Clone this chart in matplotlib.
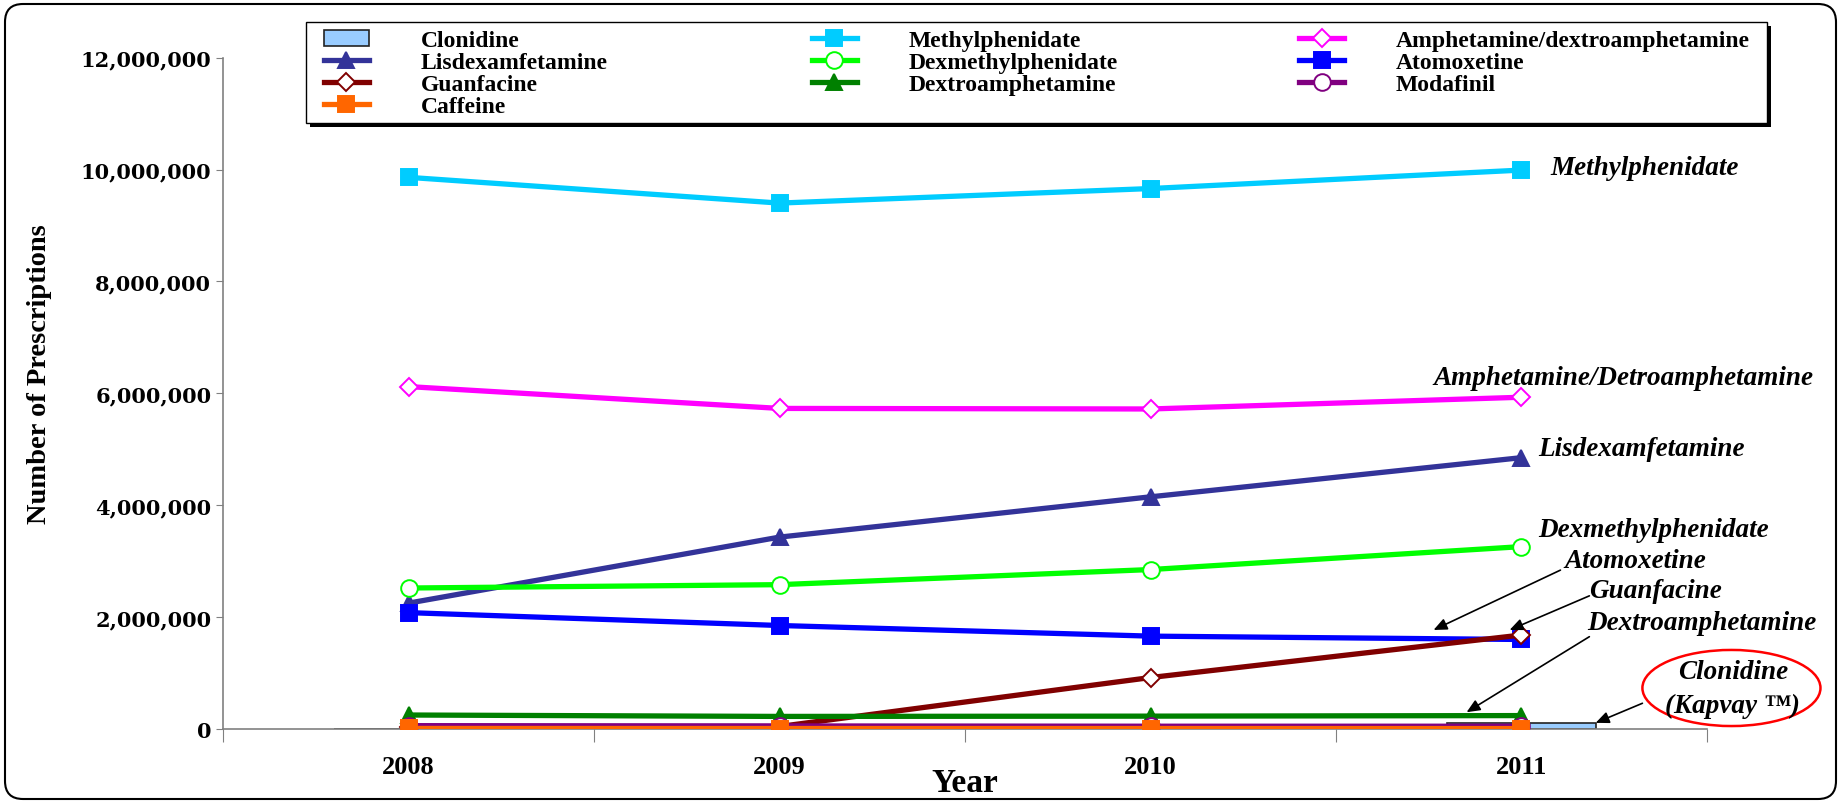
import matplotlib
matplotlib.use('Agg')
import matplotlib.pyplot as plt
from matplotlib.patches import Ellipse, FancyBboxPatch, Rectangle
from matplotlib.transforms import IdentityTransform
from matplotlib.ticker import FuncFormatter

plt.rcParams['font.family'] = ['Liberation Serif', 'DejaVu Serif']
plt.rcParams['font.weight'] = 'bold'

years = ['2008', '2009', '2010', '2011']

# prescriptions per year
clonidine = [0, 0, 0, 110000]
methylphenidate = [9860000, 9400000, 9660000, 9990000]
amphetamine = [6120000, 5730000, 5720000, 5930000]
lisdexamfetamine = [2250000, 3430000, 4150000, 4850000]
dexmethylphenidate = [2520000, 2580000, 2850000, 3260000]
atomoxetine = [2080000, 1850000, 1660000, 1600000]
guanfacine = [40000, 45000, 920000, 1680000]
dextroamphetamine = [250000, 225000, 230000, 240000]
modafinil = [60000, 55000, 50000, 50000]
caffeine = [10000, 9000, 9000, 8000]

fig = plt.figure(figsize=(18.39, 8.03), dpi=100)
ax = fig.add_axes([0.1213, 0.0909, 0.8069, 0.8361])
x = range(len(years))

#clonidine is drawn as a bar, the rest as lines
bar = ax.bar(x, clonidine, width=0.4, color='#99CCFF', edgecolor='#222222',
             linewidth=1.2, label='Clonidine', zorder=2)

def line(values, label, color, marker, size, hollow=False):
    face = 'white' if hollow else color
    h, = ax.plot(x, values, color=color, lw=3.8, marker=marker, ms=size,
                 mfc=face, mec=color, mew=1.4, label=label, zorder=3)
    return h

h_meth = line(methylphenidate, 'Methylphenidate', '#00CCFF', 's', 12)
h_amph = line(amphetamine, 'Amphetamine/dextroamphetamine', '#FF00FF', 'D', 9, True)
h_lis = line(lisdexamfetamine, 'Lisdexamfetamine', '#333399', '^', 12)
h_dex = line(dexmethylphenidate, 'Dexmethylphenidate', '#00FF00', 'o', 12, True)
h_ato = line(atomoxetine, 'Atomoxetine', '#0000FF', 's', 12)
h_gua = line(guanfacine, 'Guanfacine', '#800000', 'D', 9, True)
h_dxa = line(dextroamphetamine, 'Dextroamphetamine', '#008000', '^', 12)
h_mod = line(modafinil, 'Modafinil', '#800080', 'o', 12, True)
h_caf = line(caffeine, 'Caffeine', '#FF6600', 's', 12)

ax.set_xlim(-0.5, 3.5)
ax.set_ylim(0, 12000000)

for s in ['top', 'right']:
    ax.spines[s].set_visible(False)
for s in ['left', 'bottom']:
    ax.spines[s].set_color('#808080')
    ax.spines[s].set_linewidth(1.2)

# category boundaries get the tick marks, years sit between them
ax.set_xticks([-0.5, 0.5, 1.5, 2.5, 3.5])
ax.set_xticklabels([])
ax.set_xticks(list(x), minor=True)
ax.set_xticklabels(years, minor=True, fontsize=19, fontweight='bold')
ax.tick_params(axis='x', which='major', direction='out', length=9, color='#808080')
ax.tick_params(axis='x', which='minor', length=0, pad=19)

ax.set_yticks(range(0, 12000001, 2000000))
ax.yaxis.set_major_formatter(FuncFormatter(lambda v, p: '{:,.0f}'.format(v)))
ax.tick_params(axis='y', direction='out', length=5, color='#808080', pad=3.5)
for t in ax.get_yticklabels():
    t.set_fontfamily('DejaVu Serif')
    t.set_fontweight('bold')
    t.set_fontsize(15)

ax.set_xlabel('Year', fontsize=24, fontweight='bold', va='center')
ax.xaxis.set_label_coords(0.5, -0.08)
ax.set_ylabel('Number of Prescriptions', fontsize=20.5, fontweight='bold', va='center')
ax.yaxis.set_label_coords(-0.124, 0.53)

# labels beside the 2011 points
lab = dict(fontsize=19.5, fontweight='bold', style='italic', va='center')
ax.text(3.078, 10040000, 'Methylphenidate', ha='left', **lab)
ax.text(2.763, 6290000, 'Amphetamine/Detroamphetamine', ha='left', **lab)
ax.text(3.046, 5020000, 'Lisdexamfetamine', ha='left', **lab)
ax.text(3.046, 3570000, 'Dexmethylphenidate', ha='left', **lab)
ax.text(3.307, 3020000, 'Atomoxetine', ha='center', clip_on=False, **lab)
ax.text(3.360, 2480000, 'Guanfacine', ha='center', clip_on=False, **lab)
ax.text(3.485, 1910000, 'Dextroamphetamine', ha='center', clip_on=False, **lab)

arrow = dict(arrowstyle='-|>,head_length=0.8,head_width=0.35', color='black', lw=1.2,
             shrinkA=0, shrinkB=0)
ax.annotate('', xy=(2.763, 1770000), xytext=(3.105, 2840000), arrowprops=arrow)
ax.annotate('', xy=(2.968, 1770000), xytext=(3.183, 2380000), arrowprops=arrow)
ax.annotate('', xy=(2.852, 300000), xytext=(3.183, 1650000), arrowprops=arrow)
ax.annotate('', xy=(3.2, 110000), xytext=(3.326, 460000), arrowprops=arrow,
            annotation_clip=False)

ax.add_patch(Ellipse((3.566, 733000), width=0.48, height=1360000, fill=False,
                     edgecolor='#FF0000', lw=1.8, clip_on=False))
ax.text(3.571, 1030000, 'Clonidine', ha='center', clip_on=False, **lab)
ax.text(3.569, 420000, '(Kapvay \u2122)', ha='center', clip_on=False, **lab)

# legend frame with a drop shadow
fig.add_artist(Rectangle((0.1686, 0.8406), 0.7945, 0.1258, transform=fig.transFigure,
                         facecolor='black', edgecolor='none'))
fig.add_artist(Rectangle((0.1664, 0.8456), 0.7945, 0.1258, transform=fig.transFigure,
                         facecolor='white', edgecolor='black', lw=1))

columns = [
    ([bar, h_lis, h_gua, h_caf], 0.1762),
    ([h_meth, h_dex, h_dxa], 0.4415),
    ([h_amph, h_ato, h_mod], 0.7064),
]
for handles, left in columns:
    fig.legend(handles=handles, loc='upper left', bbox_to_anchor=(left, 0.9615),
               frameon=False, borderpad=0, borderaxespad=0, handlelength=1.9,
               handletextpad=2.2, labelspacing=0.02,
               prop={'family': 'Liberation Serif', 'weight': 'bold', 'size': 17})

# rounded border round the whole figure
fig.add_artist(FancyBboxPatch((5, 3), 1831, 795, boxstyle='round,pad=0,rounding_size=18',
                              transform=IdentityTransform(), fill=False,
                              edgecolor='black', lw=1.5))

fig.savefig('out.png', dpi=100)
